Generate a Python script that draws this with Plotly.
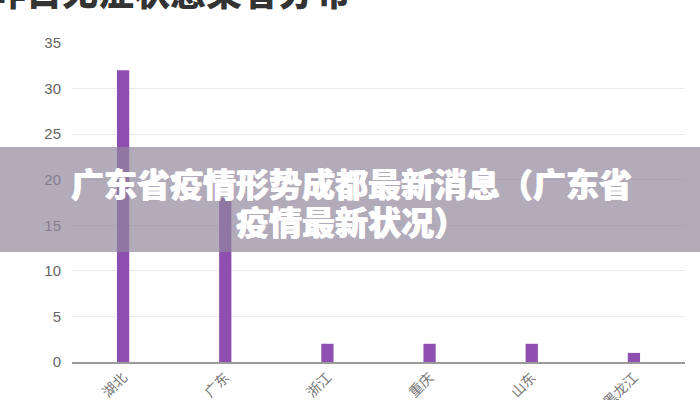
import plotly.graph_objects as go

categories = ["湖北", "广东", "浙江", "重庆", "山东", "黑龙江"]
values = [32, 18, 2, 2, 2, 1]
y_ticks = [0, 5, 10, 15, 20, 25, 30, 35]
title_text = "昨日无症状感染者分布"
banner_line1 = "广东省疫情形势成都最新消息（广东省"
banner_line2 = "疫情最新状况）"

W, H = 700, 400
L, R, T, B = 72, 15, 43, 38
pw, ph = W - L - R, H - T - B

def px_x(x):
    return (x - L) / pw

def px_y(y):
    return (H - B - y) / ph

light = "0.5px 0 0 white, -0.5px 0 0 white"

fig = go.Figure(go.Bar(
    x=categories, y=values,
    marker=dict(color="#8e4fb1", line=dict(width=0)),
    width=0.12,
))

fig.update_layout(
    width=W, height=H,
    margin=dict(l=L, r=R, t=T, b=B, autoexpand=False),
    plot_bgcolor="white", paper_bgcolor="white",
    showlegend=False,
    font=dict(family="Noto Sans CJK SC, Noto Sans, sans-serif"),
    xaxis=dict(
        showgrid=False, showline=True, linecolor="#9a9a9a", linewidth=1.5,
        tickangle=-45, tickfont=dict(size=14, color="#777777"),
        ticks="", zeroline=False, automargin=False,
    ),
    yaxis=dict(
        range=[0, 35], tickvals=y_ticks, showgrid=True, gridcolor="#ebebeb",
        gridwidth=1, zeroline=False, showline=False, automargin=False,
        tickfont=dict(size=15, color="#666666", family="Liberation Sans, Arial"),
        ticklabelstandoff=10,
    ),
    shapes=[dict(
        type="rect", xref="paper", yref="paper", layer="above",
        x0=px_x(-5), x1=px_x(W + 5), y0=px_y(252), y1=px_y(147),
        fillcolor="rgba(146,135,156,0.7)", line=dict(width=0),
    )],
    annotations=[
        dict(text=title_text, xref="paper", yref="paper", x=px_x(-12), y=px_y(-10),
             xanchor="left", yanchor="middle", showarrow=False,
             font=dict(size=36, color="#333333", family="Noto Sans CJK SC", weight=900)),
        dict(text=banner_line1, xref="paper", yref="paper", x=px_x(351), y=px_y(183),
             xanchor="center", yanchor="middle", showarrow=False,
             font=dict(size=33, color="white", family="Noto Sans CJK SC", weight=900,
                       shadow=light)),
        dict(text=banner_line2, xref="paper", yref="paper", x=px_x(351), y=px_y(221),
             xanchor="center", yanchor="middle", showarrow=False,
             font=dict(size=33, color="white", family="Noto Sans CJK SC", weight=900,
                       shadow=light)),
    ],
)

fig.write_html(
    "out.html",
    config={"displayModeBar": False},
    post_script="document.body.style.margin='0';document.body.style.overflow='hidden';",
)
